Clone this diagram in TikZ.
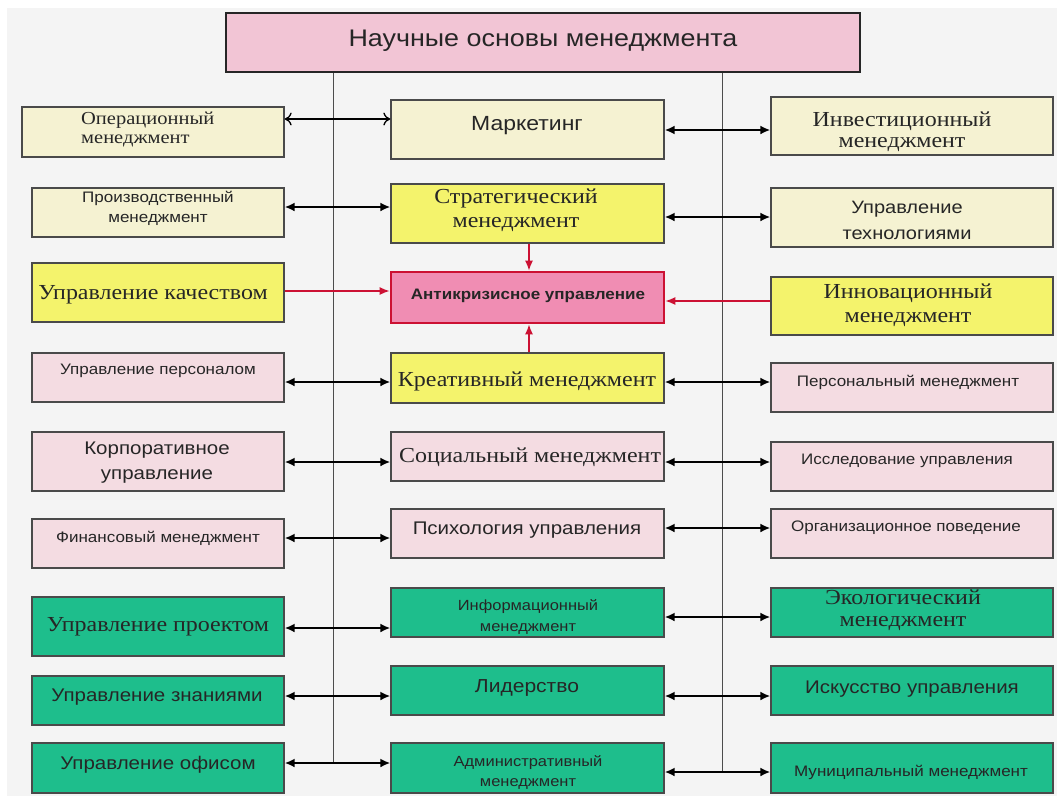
\documentclass[tikz,border=0pt]{standalone}
\usepackage{fontspec}
\setmainfont{Liberation Serif}[FakeStretch=1.12]
\newfontfamily\sans{Liberation Sans}[FakeStretch=1.12]
\usetikzlibrary{arrows.meta}
\definecolor{bgc}{HTML}{F4F4F4}
\definecolor{cream}{HTML}{F5F2D2}
\definecolor{yel}{HTML}{F4F36C}
\definecolor{lpink}{HTML}{F4DCE2}
\definecolor{grn}{HTML}{1EBE8C}
\definecolor{tpink}{HTML}{F2C5D5}
\definecolor{apink}{HTML}{F08DB3}
\definecolor{redc}{HTML}{CC1133}
\definecolor{bord}{HTML}{4A4A4A}
\newcommand\fs[2]{\fontsize{#1}{#2}\selectfont}
\newcommand\bx[6]{\node[box,fill=#6,minimum width={(#4-#2)*1pt},minimum height={(#5-#3)*1pt}] (#1) at ({(#2+#4)/2},{(#3+#5)/2}) {};}
\tikzset{
  box/.style={draw=bord,line width=1.3pt,inner sep=0pt,rectangle},
  txt/.style={inner sep=0pt,align=center,text=black!85},
  sf/.style 2 args={font={\sans\fs{#1}{#2}}},
  sfb/.style 2 args={font={\sans\bfseries\fs{#1}{#2}}},
  rm/.style 2 args={font={\rmfamily\fs{#1}{#2}}},
  vline/.style={draw=black!70,line width=0.9pt},
  dbl/.style={line width=2pt,{Latex[length=10pt,width=9pt]}-{Latex[length=10pt,width=9pt]}},
  dblopen/.style={line width=1.3pt,{To[length=7pt,width=13pt]}-{To[length=7pt,width=13pt]}},
  redarr/.style={draw=redc,line width=1.3pt,-{Latex[length=10pt,width=8pt]}}
}
\begin{document}
\begin{tikzpicture}[x=1pt,y=-1pt]
\fill[white] (0,0) rectangle (1057,796);
\fill[bgc] (7,8) rectangle (1057,796);
\useasboundingbox (0,0) rectangle (1057,796);
% title
\node[box,draw=black!85,line width=2.2pt,fill=tpink,minimum width=634pt,minimum height=59pt] (title) at (543,42.5) {};
% boxes
\bx{L1}{22}{107}{284}{157}{cream}
\bx{M1}{391}{100}{664}{159}{cream}
\bx{R1}{771}{97}{1053}{155}{cream}
\bx{L2}{32}{188}{284}{237}{cream}
\bx{M2}{391}{184}{664}{243}{yel}
\bx{R2}{771}{188}{1053}{247}{cream}
\bx{L3}{32}{263}{284}{322}{yel}
\node[box,draw=redc,line width=2.8pt,fill=apink,minimum width=273pt,minimum height=51pt] (M3) at (527.5,297.5) {};
\bx{R3}{771}{277}{1053}{335}{yel}
\bx{L4}{32}{353}{284}{402}{lpink}
\bx{M4}{391}{353}{664}{403}{yel}
\bx{R4}{771}{363}{1053}{412}{lpink}
\bx{L5}{32}{432}{284}{491}{lpink}
\bx{M5}{391}{432}{664}{481}{lpink}
\bx{R5}{771}{442}{1053}{491}{lpink}
\bx{L6}{32}{519}{284}{568}{lpink}
\bx{M6}{391}{509}{664}{558}{lpink}
\bx{R6}{771}{509}{1053}{558}{lpink}
\bx{L7}{32}{597}{284}{656}{grn}
\bx{M7}{391}{588}{664}{637}{grn}
\bx{R7}{771}{588}{1053}{637}{grn}
\bx{L8}{32}{676}{284}{725}{grn}
\bx{M8}{391}{666}{664}{715}{grn}
\bx{R8}{771}{666}{1053}{715}{grn}
\bx{L9}{32}{743}{284}{793}{grn}
\bx{M9}{391}{743}{664}{793}{grn}
\bx{R9}{771}{743}{1053}{793}{grn}
% vertical lines
\coordinate (vLend) at (333,763);
\coordinate (vRend) at (722,772);
\draw[vline] (title.south -| vLend) -- (vLend);
\draw[vline] (title.south -| vRend) -- (vRend);
% texts
\node[txt,sf={24}{28}] (tT) at (543,41) {Научные основы менеджмента};
\node[txt,sf={20.5}{24}] (tM1) at (527,126) {Маркетинг};
\node[txt,rm={18.3}{19},align=left,anchor=west] (tL1) at (81,129) {Операционный\\менеджмент};
\node[txt,rm={21.4}{21}] (tR1) at (902,132) {Инвестиционный\\менеджмент};
\node[txt,sf={15.2}{20}] (tL2) at (158,208) {Производственный\\менеджмент};
\node[txt,rm={21.4}{24}] (tM2) at (516,210) {Стратегический\\менеджмент};
\node[txt,sf={17.9}{26}] (tR2) at (907,220) {Управление\\технологиями};
\node[txt,rm={21.4}{24}] (tL3) at (153,295) {Управление качеством};
\node[txt,sfb={15.2}{18}] (tM3) at (528,296) {Антикризисное управление};
\node[txt,rm={21.4}{24}] (tR3) at (908,305) {Инновационный\\менеджмент};
\node[txt,sf={15.2}{18}] (tL4) at (158,371) {Управление персоналом};
\node[txt,rm={21.4}{24}] (tM4) at (527,381) {Креативный менеджмент};
\node[txt,sf={15.2}{18}] (tR4) at (908,382) {Персональный менеджмент};
\node[txt,sf={18.3}{25}] (tL5) at (157,463) {Корпоративное\\управление};
\node[txt,rm={21.4}{24}] (tM5) at (530,457) {Социальный менеджмент};
\node[txt,sf={15.2}{18}] (tR5) at (907,461) {Исследование управления};
\node[txt,sf={15.2}{18}] (tL6) at (158,538) {Финансовый менеджмент};
\node[txt,sf={18.3}{22}] (tM6) at (527,530) {Психология управления};
\node[txt,sf={15.2}{18}] (tR6) at (906,528) {Организационное поведение};
\node[txt,rm={21.4}{24}] (tL7) at (158,627) {Управление проектом};
\node[txt,sf={14.7}{21}] (tM7) at (528,617) {Информационный\\менеджмент};
\node[txt,rm={21.4}{22}] (tR7) at (903,610) {Экологический\\менеджмент};
\node[txt,sf={18.3}{21}] (tL8) at (157,697) {Управление знаниями};
\node[txt,sf={18.8}{21}] (tM8) at (527,688) {Лидерство};
\node[txt,sf={18.3}{21}] (tR8) at (912,689) {Искусство управления};
\node[txt,sf={18.3}{21}] (tL9) at (158,765) {Управление офисом};
\node[txt,sf={14.7}{20}] (tM9) at (528,772) {Административный\\менеджмент};
\node[txt,sf={15.2}{18}] (tR9) at (911,772) {Муниципальный менеджмент};
% arrow levels
\coordinate (a1l) at (0,119); \coordinate (a1r) at (0,130);
\coordinate (a2l) at (0,207); \coordinate (a2r) at (0,217);
\coordinate (a3l) at (0,291); \coordinate (a3r) at (0,301);
\coordinate (a4l) at (0,382); \coordinate (a4r) at (0,382);
\coordinate (a5l) at (0,462); \coordinate (a5r) at (0,462);
\coordinate (a6l) at (0,538); \coordinate (a6r) at (0,528);
\coordinate (a7l) at (0,628); \coordinate (a7r) at (0,617);
\coordinate (a8l) at (0,696); \coordinate (a8r) at (0,696);
\coordinate (a9l) at (0,763); \coordinate (a9r) at (0,772);
% connectors
\draw[dblopen] (L1.east |- a1l) -- (M1.west |- a1l);
\draw[dbl] (M1.east |- a1r) -- (R1.west |- a1r);
\foreach \r in {2,4,5,6,7,8,9}{
  \draw[dbl] (L\r.east |- a\r l) -- (M\r.west |- a\r l);
  \draw[dbl] (M\r.east |- a\r r) -- (R\r.west |- a\r r);
}
\draw[redarr] (L3.east |- a3l) -- (M3.west |- a3l);
\draw[redarr] (R3.west |- a3r) -- (M3.east |- a3r);
\coordinate (rx) at (529,0);
\draw[redarr] (M2.south -| rx) -- (M3.north -| rx);
\draw[redarr] (M4.north -| rx) -- (M3.south -| rx);
\end{tikzpicture}
\end{document}
